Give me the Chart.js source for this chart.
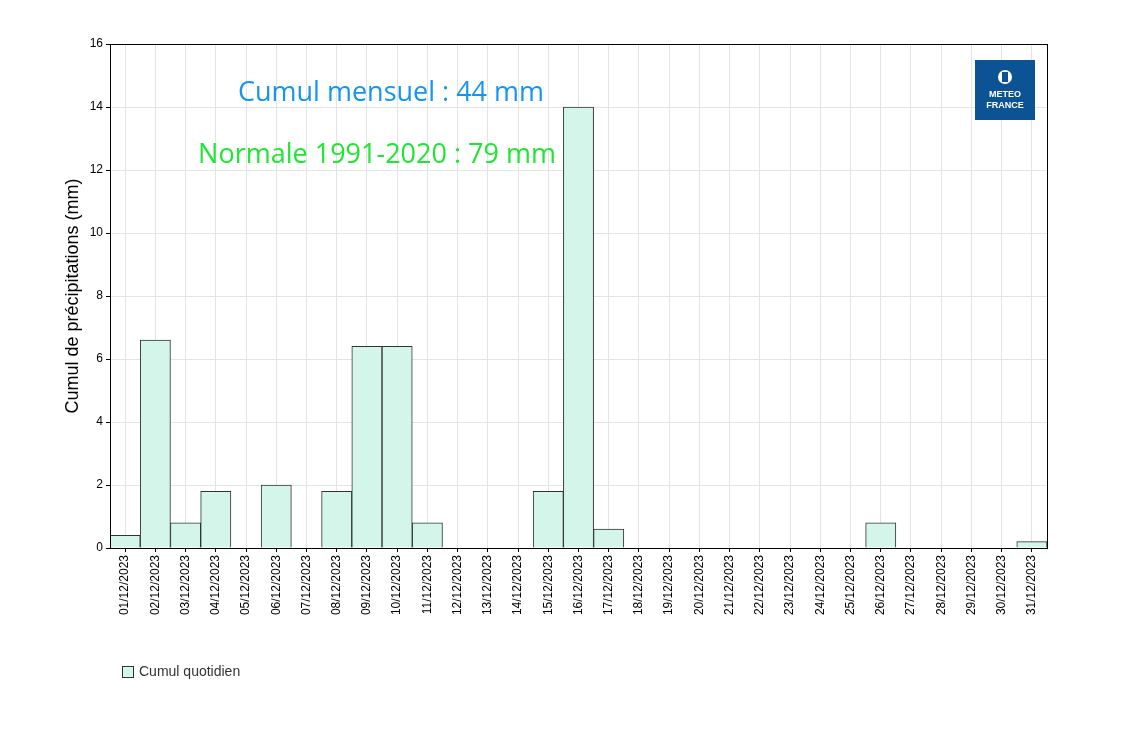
<!DOCTYPE html>
<html>
<head>
<meta charset="utf-8">
<script src="https://cdn.jsdelivr.net/npm/chart.js@4/dist/chart.umd.min.js"></script>
<style>body{margin:0;background:#fff}</style>
</head>
<body>
<canvas id="rain" width="1133" height="729"></canvas>
<script>
const days = [];
for (let d = 1; d <= 31; d++) days.push(String(d).padStart(2, '0') + '/12/2023');
const dailyRain = [0.4, 6.6, 0.8, 1.8, 0, 2.0, 0, 1.8, 6.4, 6.4, 0.8, 0, 0, 0, 1.8, 14.0, 0.6,
                   0, 0, 0, 0, 0, 0, 0, 0, 0.8, 0, 0, 0, 0, 0.2];
const yTicks = [0, 2, 4, 6, 8, 10, 12, 14, 16];

const FONT = '"Liberation Sans", Arial, sans-serif';

const extras = {
    id: 'extras',
    afterDraw(chart) {
        const ctx = chart.ctx;
        const a = chart.chartArea;
        ctx.save();
        // frame
        ctx.strokeStyle = '#000';
        ctx.lineWidth = 1;
        ctx.strokeRect(a.left + 0.5, a.top + 0.5, a.right - a.left, a.bottom - a.top);

        // annotations
        ctx.textAlign = 'center';
        ctx.textBaseline = 'middle';
        ctx.font = '27px "Open Sans", sans-serif';
        ctx.fillStyle = '#1496f0';
        ctx.fillText('Cumul mensuel : 44 mm', 391, 93);
        ctx.fillStyle = '#1ee632';
        ctx.fillText('Normale 1991-2020 : 79 mm', 377, 155);

        // logo
        ctx.fillStyle = '#0b5394';
        ctx.fillRect(975, 60, 60, 60);
        ctx.fillStyle = '#fff';
        ctx.beginPath();
        ctx.arc(1005, 77, 7, 0, Math.PI * 2);
        ctx.fill();
        ctx.fillStyle = '#0b5394';
        ctx.fillRect(1002, 72, 6, 10);
        ctx.fillStyle = '#fff';
        ctx.font = 'bold 9px ' + FONT;
        ctx.fillText('METEO', 1005, 95);
        ctx.fillText('FRANCE', 1005, 106);

        // legend
        ctx.fillStyle = '#d4f5ea';
        ctx.fillRect(122, 666, 11, 11);
        ctx.strokeStyle = '#333';
        ctx.strokeRect(122.5, 666.5, 11, 11);
        ctx.fillStyle = '#333';
        ctx.textAlign = 'left';
        ctx.font = '14px ' + FONT;
        ctx.fillText('Cumul quotidien', 139, 672);
        ctx.restore();
    }
};

new Chart(document.getElementById('rain').getContext('2d'), {
    type: 'bar',
    data: {
        labels: days,
        datasets: [{
            label: 'Cumul quotidien',
            data: dailyRain,
            backgroundColor: '#d4f5ea',
            borderColor: '#333',
            borderWidth: 1,
            categoryPercentage: 1,
            barPercentage: 1
        }]
    },
    options: {
        responsive: false,
        animation: false,
        layout: { padding: { left: 50, top: 44, right: 86, bottom: 101 } },
        scales: {
            x: {
                afterFit(s) { s.height = 80; },
                grid: { color: '#e4e4e4', offset: false, drawTicks: true, tickColor: '#000', tickLength: 4 },
                border: { color: '#000' },
                ticks: { minRotation: 90, maxRotation: 90, autoSkip: false, color: '#000', font: { family: FONT, size: 12 } }
            },
            y: {
                min: 0, max: 16,
                afterFit(s) { s.width = 60; },
                afterBuildTicks(s) { s.ticks = yTicks.map(v => ({ value: v })); },
                grid: { color: '#e4e4e4', tickColor: '#000', tickLength: 4 },
                border: { color: '#000' },
                ticks: { color: '#000', font: { family: FONT, size: 12 } },
                title: { display: true, text: 'Cumul de précipitations (mm)', color: '#000', font: { family: FONT, size: 18 }, padding: { top: 12, bottom: 4 } }
            }
        },
        plugins: { legend: { display: false }, tooltip: { enabled: false } }
    },
    plugins: [extras]
});
</script>
</body>
</html>
